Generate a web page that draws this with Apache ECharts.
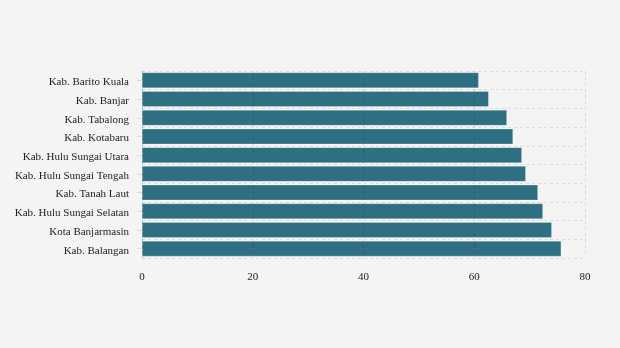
<!DOCTYPE html>
<html><head><meta charset="utf-8">
<script src="https://cdn.jsdelivr.net/npm/echarts@6/dist/echarts.min.js"></script>
<style>html,body{margin:0;padding:0;background:#f4f4f4}#c{width:620px;height:348px}</style>
</head><body><div id="c"></div>
<script>
var categories = ["Kab. Barito Kuala","Kab. Banjar","Kab. Tabalong","Kab. Kotabaru","Kab. Hulu Sungai Utara","Kab. Hulu Sungai Tengah","Kab. Tanah Laut","Kab. Hulu Sungai Selatan","Kota Banjarmasin","Kab. Balangan"];
var values = [60.8, 62.6, 65.9, 67.0, 68.6, 69.3, 71.5, 72.4, 74.0, 75.7];
var xTicks = [0, 20, 40, 60, 80];

var chart = echarts.init(document.getElementById('c'));
chart.setOption({
  backgroundColor: '#f4f4f4',
  animation: false,
  grid: {left: 142, right: 35, top: 71, bottom: 90, containLabel: false},
  xAxis: {
    type: 'value', min: xTicks[0], max: xTicks[xTicks.length-1], interval: 20, z: 3,
    axisLine: {show: false}, axisTick: {show: false},
    axisLabel: {color: '#222', fontFamily: 'Liberation Serif', fontSize: 11, margin: 14},
    splitLine: {show: true, lineStyle: {color: 'rgba(0,0,0,0.12)', type: [3, 3], width: 1}}
  },
  yAxis: {
    type: 'category', data: categories, inverse: true,
    axisLine: {show: true, lineStyle: {color: 'rgba(0,0,0,0.12)', type: [3, 3]}},
    axisTick: {show: true, length: 5, lineStyle: {color: '#ddd'}, alignWithLabel: true},
    axisLabel: {color: '#222', fontFamily: 'Liberation Serif', fontSize: 11, margin: 13, verticalAlign: 'top', lineHeight: 4},
    splitLine: {show: true, lineStyle: {color: '#dcdcdc', type: [3, 3], width: 1}}
  },
  series: [{
    type: 'bar', data: values, barCategoryGap: '17%',
    itemStyle: {color: '#2e6f82', borderColor: 'rgba(255,255,255,0.5)', borderWidth: 0.5}
  }]
});
</script></body></html>
